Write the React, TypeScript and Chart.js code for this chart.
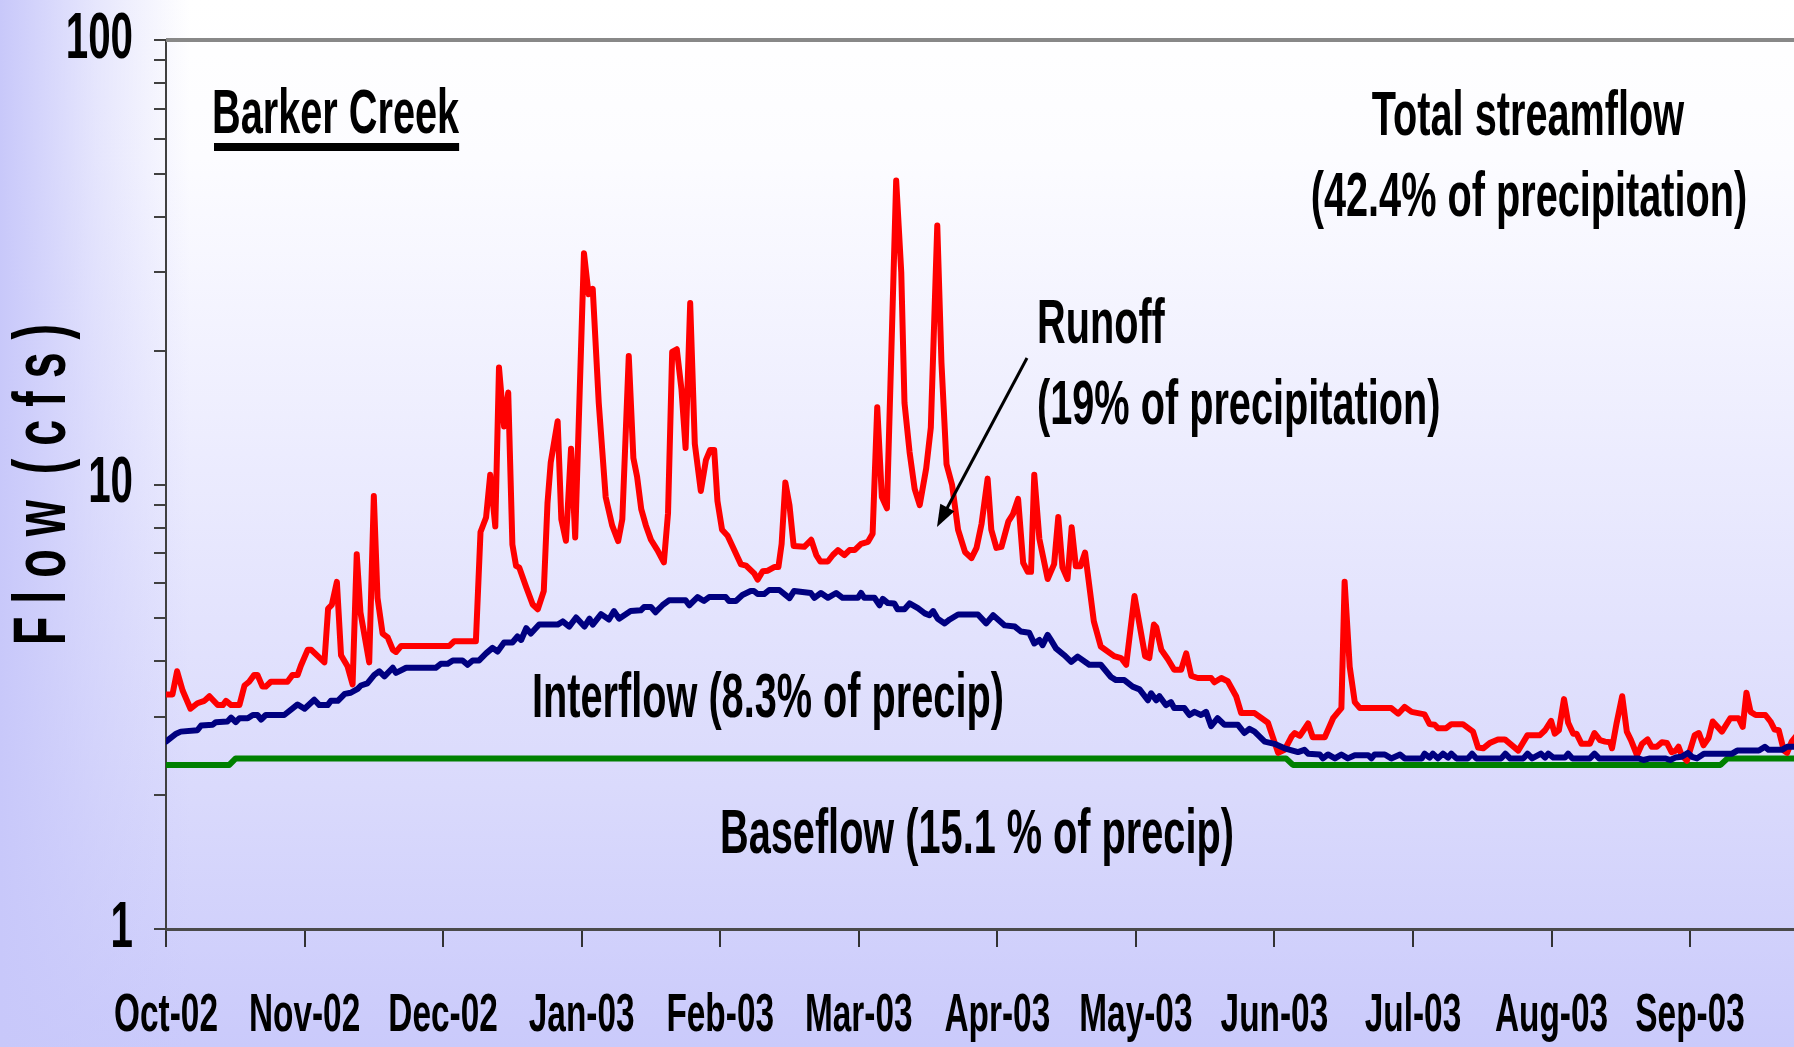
import React, { useEffect, useRef } from 'react';
import { Chart, registerables } from 'chart.js';

Chart.register(...registerables);

// ---------- data ----------
const monthLabels = ['Oct-02', 'Nov-02', 'Dec-02', 'Jan-03', 'Feb-03', 'Mar-03', 'Apr-03', 'May-03', 'Jun-03', 'Jul-03', 'Aug-03', 'Sep-03'];
const monthTickDays = [0, 30, 60, 90, 120, 150, 180, 210, 240, 270, 300, 330];
const yTickValues = [1, 2, 3, 4, 5, 6, 7, 8, 9, 10, 20, 30, 40, 50, 60, 70, 80, 90, 100];
const yTickLabels: Record<number, string> = { 1: '1', 10: '10', 100: '100' };

// Total streamflow (red)
const totalDays = [0, 1.4, 2.4, 3.6, 5.3, 6.8, 8.3, 9.4, 11.2, 12.3, 13.0, 14.1, 15.9, 17.0, 18.0, 19.1, 19.8, 20.9, 21.6, 22.7, 26.3, 27.4, 28.5, 29.2, 30.7, 31.4, 34.3, 35.1, 35.9, 37.0, 37.9, 39.3, 40.4, 41.3, 42.1, 44.0, 45.0, 45.8, 46.9, 48.0, 49.1, 49.8, 50.9, 61.3, 62.4, 67.1, 68.1, 69.3, 70.2, 71.3, 72.1, 73.2, 74.1, 75.0, 75.8, 76.5, 78.0, 79.4, 80.5, 81.8, 82.6, 83.3, 84.8, 85.6, 86.6, 87.7, 88.6, 90.5, 91.5, 92.4, 93.7, 95.2, 96.6, 97.9, 98.8, 100.2, 101.2, 102.0, 102.9, 103.9, 105.0, 106.4, 107.8, 108.7, 109.6, 110.6, 111.6, 112.5, 113.5, 114.5, 115.8, 116.9, 117.8, 118.7, 119.4, 120.4, 121.6, 124.5, 125.6, 127.4, 128.1, 129.2, 130.3, 131.7, 132.6, 133.3, 134.1, 135.0, 135.9, 138.2, 139.7, 140.8, 141.7, 143.3, 144.4, 145.5, 146.9, 148.0, 149.1, 150.5, 152.0, 153.0, 154.0, 155.0, 156.1, 158.1, 159.2, 159.9, 161.0, 162.1, 163.2, 164.6, 165.6, 167.0, 167.9, 169.0, 170.2, 171.5, 173.0, 174.4, 175.5, 176.6, 177.9, 178.7, 179.8, 180.9, 182.4, 183.4, 184.5, 185.6, 186.6, 187.3, 188.0, 189.1, 190.9, 192.3, 193.2, 194.1, 195.2, 196.1, 197.0, 198.0, 199.0, 200.9, 202.4, 205.3, 206.8, 207.9, 209.7, 212.0, 212.9, 213.9, 214.4, 215.5, 216.9, 218.3, 219.8, 220.9, 222.0, 223.4, 226.3, 227.0, 228.5, 229.9, 231.7, 232.8, 235.7, 238.6, 240.8, 242.2, 243.7, 244.4, 245.5, 247.3, 248.3, 250.9, 252.7, 254.5, 255.2, 256.3, 257.4, 258.5, 265.3, 266.8, 268.2, 269.7, 271.1, 272.5, 273.6, 274.7, 275.4, 277.2, 278.3, 280.8, 283.0, 284.1, 285.2, 286.6, 288.4, 289.9, 292.8, 294.8, 297.5, 298.6, 299.9, 300.7, 301.6, 302.7, 303.6, 304.7, 305.4, 306.5, 308.3, 309.3, 310.5, 311.6, 312.7, 313.1, 314.1, 315.3, 316.3, 317.2, 318.5, 319.6, 320.8, 321.7, 322.8, 323.9, 325.0, 326.0, 326.9, 327.5, 328.2, 329.3, 331.0, 331.9, 332.9, 334.0, 334.9, 336.9, 338.7, 340.5, 341.4, 342.2, 343.1, 344.2, 346.3, 347.4, 348.3, 349.2, 350.3, 351.0, 352.0, 353.0];
const totalCfs = [3.37, 3.37, 3.80, 3.44, 3.13, 3.22, 3.26, 3.34, 3.19, 3.19, 3.26, 3.19, 3.19, 3.53, 3.60, 3.73, 3.73, 3.51, 3.51, 3.60, 3.60, 3.73, 3.73, 3.91, 4.25, 4.25, 3.98, 5.26, 5.36, 6.04, 4.13, 3.90, 3.55, 6.97, 5.16, 3.98, 9.42, 5.56, 4.62, 4.53, 4.25, 4.20, 4.33, 4.33, 4.44, 4.44, 7.82, 8.43, 10.52, 8.05, 18.33, 13.50, 16.10, 7.33, 6.56, 6.50, 5.87, 5.37, 5.24, 5.76, 9.07, 11.21, 13.88, 8.35, 7.47, 12.04, 7.60, 33.15, 26.79, 27.55, 15.26, 9.37, 8.09, 7.46, 8.35, 19.45, 11.46, 10.42, 8.80, 8.09, 7.51, 7.12, 6.68, 8.62, 19.87, 20.15, 16.41, 12.08, 25.59, 12.34, 9.67, 11.34, 11.95, 11.95, 9.18, 7.91, 7.67, 6.61, 6.57, 6.30, 6.11, 6.38, 6.40, 6.52, 6.52, 7.35, 10.10, 8.98, 7.27, 7.24, 7.51, 6.94, 6.71, 6.71, 6.94, 7.12, 6.94, 7.12, 7.12, 7.35, 7.43, 7.75, 14.93, 9.37, 8.84, 48.28, 30.0, 15.26, 11.83, 9.78, 8.99, 10.87, 13.43, 38.26, 18.84, 11.11, 9.99, 7.91, 7.05, 6.83, 7.20, 8.17, 10.31, 7.91, 7.20, 7.24, 8.26, 8.58, 9.28, 6.66, 6.36, 6.36, 10.52, 7.55, 6.13, 6.62, 8.45, 6.51, 6.13, 8.01, 6.55, 6.55, 7.03, 4.92, 4.32, 4.11, 4.07, 3.93, 5.61, 4.11, 4.07, 4.84, 4.78, 4.25, 4.05, 3.83, 3.83, 4.17, 3.71, 3.67, 3.67, 3.59, 3.67, 3.61, 3.34, 3.06, 3.06, 2.91, 2.49, 2.53, 2.71, 2.76, 2.72, 2.90, 2.70, 2.70, 2.98, 3.14, 6.04, 3.89, 3.24, 3.14, 3.14, 3.05, 3.16, 3.08, 3.06, 3.04, 2.89, 2.88, 2.83, 2.83, 2.89, 2.89, 2.78, 2.56, 2.55, 2.62, 2.67, 2.67, 2.52, 2.73, 2.73, 2.80, 2.94, 2.75, 2.80, 3.29, 2.91, 2.75, 2.75, 2.61, 2.61, 2.76, 2.66, 2.64, 2.63, 2.55, 2.91, 3.34, 2.78, 2.66, 2.46, 2.61, 2.67, 2.57, 2.57, 2.63, 2.62, 2.50, 2.52, 2.57, 2.46, 2.39, 2.73, 2.76, 2.59, 2.69, 2.93, 2.78, 2.98, 2.98, 2.85, 3.40, 3.08, 3.03, 3.03, 2.93, 2.81, 2.80, 2.52, 2.49, 2.64, 2.72];

// Interflow (navy)
const interDays = [0, 2.2, 3.2, 6.8, 7.6, 10.1, 10.8, 13.3, 14.1, 15.1, 15.9, 17.7, 18.8, 19.8, 20.6, 21.6, 25.6, 28.5, 30.0, 32.1, 33.2, 35.0, 35.7, 37.2, 38.7, 40.0, 41.5, 42.2, 43.6, 45.1, 46.2, 47.3, 49.1, 49.8, 52.0, 58.4, 59.5, 61.0, 62.1, 64.2, 65.3, 66.4, 67.8, 69.3, 70.7, 71.8, 73.2, 75.0, 76.1, 76.9, 78.0, 79.0, 80.8, 84.8, 85.9, 87.3, 88.8, 90.6, 91.7, 92.4, 94.2, 95.9, 97.0, 98.1, 100.6, 102.8, 103.5, 105.0, 106.0, 107.5, 108.9, 112.5, 113.3, 115.1, 116.5, 117.6, 121.2, 121.9, 123.4, 124.8, 126.6, 127.3, 128.1, 129.5, 130.6, 132.8, 135.0, 136.0, 139.6, 140.4, 141.8, 143.3, 145.1, 146.5, 149.8, 150.5, 151.2, 153.4, 154.5, 155.2, 156.3, 157.7, 158.4, 159.9, 161.0, 162.8, 164.3, 165.3, 166.1, 167.1, 168.6, 169.7, 171.5, 175.8, 177.6, 179.1, 181.6, 183.8, 185.1, 186.9, 188.0, 189.1, 189.8, 190.9, 191.6, 192.7, 194.5, 196.0, 197.4, 199.9, 202.4, 204.6, 205.7, 207.5, 209.3, 210.8, 212.6, 213.3, 214.4, 215.1, 216.5, 217.6, 218.3, 220.5, 221.6, 222.7, 224.1, 225.2, 226.3, 227.7, 229.2, 232.1, 233.5, 234.6, 235.7, 237.9, 240.0, 242.2, 245.1, 246.5, 247.3, 249.8, 250.5, 251.6, 253.1, 254.5, 255.9, 257.4, 260.3, 261.0, 261.7, 263.9, 265.3, 267.2, 268.2, 271.9, 272.5, 273.6, 274.3, 275.4, 276.5, 277.6, 278.3, 279.4, 281.9, 282.8, 283.7, 289.1, 290.0, 291.0, 293.9, 294.8, 295.8, 297.7, 298.6, 299.3, 300.4, 302.9, 303.6, 304.5, 308.3, 309.3, 310.3, 318.8, 319.9, 321.3, 324.6, 325.7, 326.8, 328.2, 329.5, 330.4, 331.5, 333.0, 339.1, 340.2, 344.9, 346.2, 347.0, 349.9, 351.0, 353.0];
const interCfs = [2.64, 2.75, 2.78, 2.80, 2.87, 2.88, 2.92, 2.93, 2.99, 2.92, 2.98, 2.98, 3.03, 3.03, 2.96, 3.03, 3.03, 3.20, 3.13, 3.28, 3.19, 3.19, 3.26, 3.26, 3.38, 3.40, 3.47, 3.53, 3.57, 3.73, 3.80, 3.70, 3.87, 3.77, 3.87, 3.87, 3.95, 3.95, 4.02, 4.02, 3.93, 4.02, 4.02, 4.17, 4.29, 4.21, 4.41, 4.41, 4.55, 4.47, 4.75, 4.62, 4.84, 4.84, 4.92, 4.79, 5.02, 4.79, 4.99, 4.84, 5.11, 4.97, 5.19, 4.99, 5.19, 5.21, 5.30, 5.30, 5.16, 5.35, 5.49, 5.49, 5.35, 5.58, 5.47, 5.58, 5.58, 5.47, 5.47, 5.64, 5.76, 5.76, 5.67, 5.67, 5.79, 5.79, 5.55, 5.76, 5.70, 5.56, 5.70, 5.56, 5.70, 5.56, 5.56, 5.70, 5.56, 5.56, 5.35, 5.53, 5.41, 5.40, 5.24, 5.24, 5.40, 5.27, 5.13, 5.08, 5.19, 4.99, 4.87, 4.97, 5.10, 5.10, 4.87, 5.08, 4.82, 4.79, 4.67, 4.64, 4.39, 4.47, 4.35, 4.59, 4.47, 4.28, 4.13, 3.99, 4.10, 3.93, 3.93, 3.69, 3.63, 3.63, 3.51, 3.46, 3.27, 3.39, 3.27, 3.34, 3.19, 3.24, 3.14, 3.14, 3.03, 3.08, 3.03, 3.08, 2.86, 2.98, 2.88, 2.88, 2.76, 2.82, 2.78, 2.64, 2.61, 2.55, 2.50, 2.53, 2.48, 2.47, 2.42, 2.47, 2.42, 2.47, 2.42, 2.46, 2.46, 2.42, 2.47, 2.47, 2.42, 2.47, 2.42, 2.42, 2.48, 2.43, 2.48, 2.42, 2.48, 2.43, 2.48, 2.42, 2.42, 2.48, 2.42, 2.42, 2.48, 2.42, 2.42, 2.48, 2.42, 2.48, 2.43, 2.48, 2.43, 2.43, 2.48, 2.42, 2.42, 2.48, 2.42, 2.42, 2.40, 2.42, 2.42, 2.40, 2.43, 2.44, 2.49, 2.44, 2.42, 2.48, 2.48, 2.52, 2.52, 2.57, 2.53, 2.53, 2.57, 2.57];

// Baseflow (green)
const baseDays = [0, 13.7, 15.1, 242.5, 244.0, 336.6, 338.1, 353];
const baseCfs = [2.34, 2.34, 2.42, 2.42, 2.34, 2.34, 2.42, 2.42];

// ---------- text ----------
const siteName = 'Barker Creek';
const totalLabel = ['Total streamflow', '(42.4% of precipitation)'];
const runoffLabel = ['Runoff', '(19% of precipitation)'];
const interLabel = 'Interflow (8.3% of precip)';
const baseLabel = 'Baseflow (15.1 % of precip)';
const yTitle = 'F l o w  ( c f s )';

const FONT = '"Liberation Sans", Arial, Helvetica, sans-serif';
const SX = 0.63; // horizontal compression of the slide's condensed lettering

function patchContext(ctx: any) {
  if (ctx.__condensed) return;
  const orig = CanvasRenderingContext2D.prototype.fillText;
  ctx.fillText = function (text: string, x: number, y: number, maxWidth?: number) {
    this.save();
    this.translate(x, y);
    this.scale(SX, 1);
    if (maxWidth === undefined || maxWidth === null || !isFinite(maxWidth)) orig.call(this, text, 0, 0);
    else orig.call(this, text, 0, 0, maxWidth / SX);
    this.restore();
  };
  ctx.__condensed = true;
}

const bgPlugin = {
  id: 'slideBackground',
  beforeDraw(chart: any) {
    const { ctx, width, height } = chart;
    ctx.save();
    const g = ctx.createLinearGradient(0, 0, 0, height);
    g.addColorStop(0, '#ffffff');
    g.addColorStop(0.15, '#fcfcff');
    g.addColorStop(0.45, '#ebebfe');
    g.addColorStop(0.75, '#dadafc');
    g.addColorStop(1, '#cacafb');
    ctx.fillStyle = g;
    ctx.fillRect(0, 0, width, height);
    const h = ctx.createLinearGradient(0, 0, 190, 0);
    h.addColorStop(0, 'rgba(200,200,250,1)');
    h.addColorStop(0.5, 'rgba(200,200,250,0.45)');
    h.addColorStop(1, 'rgba(200,200,250,0)');
    ctx.fillStyle = h;
    ctx.fillRect(0, 0, 190, height);
    ctx.restore();
  },
};

const annotationPlugin = {
  id: 'slideAnnotations',
  afterDraw(chart: any) {
    const ctx = chart.ctx;
    const { left, right, top } = chart.chartArea;
    ctx.save();
    // top border of plot area
    ctx.strokeStyle = '#888888';
    ctx.lineWidth = 4;
    ctx.beginPath();
    ctx.moveTo(left, top);
    ctx.lineTo(right, top);
    ctx.stroke();

    ctx.fillStyle = '#000000';
    ctx.font = `bold 63px ${FONT}`;
    ctx.textBaseline = 'alphabetic';
    ctx.textAlign = 'left';
    ctx.fillText(siteName, 212, 133);
    const w = ctx.measureText(siteName).width * SX;
    ctx.fillRect(214, 143, w - 2, 8);

    ctx.textAlign = 'center';
    ctx.fillText(totalLabel[0], 1528, 135);
    ctx.fillText(totalLabel[1], 1529, 216);

    ctx.textAlign = 'left';
    ctx.fillText(runoffLabel[0], 1037, 343);
    ctx.fillText(runoffLabel[1], 1037, 424);
    ctx.fillText(interLabel, 532, 717);
    ctx.fillText(baseLabel, 720, 853);

    // arrow
    const x1 = 1027, y1 = 358, x2 = 937, y2 = 527;
    const ang = Math.atan2(y2 - y1, x2 - x1);
    const hl = 22, hw = 8;
    ctx.strokeStyle = '#000000';
    ctx.lineWidth = 3;
    ctx.beginPath();
    ctx.moveTo(x1, y1);
    ctx.lineTo(x2 - Math.cos(ang) * hl * 0.8, y2 - Math.sin(ang) * hl * 0.8);
    ctx.stroke();
    ctx.beginPath();
    ctx.moveTo(x2, y2);
    ctx.lineTo(x2 - Math.cos(ang) * hl - Math.sin(ang) * hw, y2 - Math.sin(ang) * hl + Math.cos(ang) * hw);
    ctx.lineTo(x2 - Math.cos(ang) * hl + Math.sin(ang) * hw, y2 - Math.sin(ang) * hl - Math.cos(ang) * hw);
    ctx.closePath();
    ctx.fill();
    ctx.restore();
  },
};

function toPoints(days: number[], vals: number[]) {
  return days.map((d, i) => ({ x: d, y: vals[i] }));
}

export default function App() {
  const canvasRef = useRef<HTMLCanvasElement | null>(null);

  useEffect(() => {
    const canvas = canvasRef.current;
    if (!canvas) return;
    const ctx = canvas.getContext('2d');
    if (!ctx) return;
    patchContext(ctx);

    const chart = new Chart(ctx as any, {
      type: 'line',
      data: {
        datasets: [
          {
            label: 'Interflow',
            data: toPoints(interDays, interCfs),
            borderColor: '#000080',
            borderWidth: 6,
            pointRadius: 0,
            tension: 0,
            order: 0,
          },
          {
            label: 'Total streamflow',
            data: toPoints(totalDays, totalCfs),
            borderColor: '#ff0000',
            borderWidth: 6,
            pointRadius: 0,
            tension: 0,
            order: 1,
          },
          {
            label: 'Baseflow',
            data: toPoints(baseDays, baseCfs),
            borderColor: '#008000',
            borderWidth: 6,
            pointRadius: 0,
            tension: 0,
            order: 2,
          },
        ],
      } as any,
      options: {
        animation: false,
        responsive: false,
        devicePixelRatio: 1,
        layout: { padding: { top: 40, left: 0, right: 0, bottom: 0 } },
        elements: {
          line: { borderJoinStyle: 'round', borderCapStyle: 'round' },
          point: { radius: 0 },
        },
        plugins: {
          legend: { display: false },
          tooltip: { enabled: false },
          title: { display: false },
        },
        scales: {
          x: {
            type: 'linear',
            min: 0,
            max: 352.5,
            afterBuildTicks: (s: any) => {
              s.ticks = monthTickDays.map((v) => ({ value: v }));
            },
            afterFit: (s: any) => {
              s.height = 118;
              s.paddingLeft = 0;
              s.paddingRight = 0;
            },
            ticks: {
              autoSkip: false,
              maxRotation: 0,
              minRotation: 0,
              padding: 38,
              color: '#000000',
              font: { family: FONT, size: 53, weight: 'bold', lineHeight: 1.2 },
              callback: (v: any) => {
                const i = monthTickDays.indexOf(Number(v));
                return i >= 0 ? monthLabels[i] : '';
              },
            },
            grid: {
              display: true,
              drawOnChartArea: false,
              drawTicks: true,
              tickLength: 18,
              color: '#333333',
              lineWidth: 2,
            },
            border: { display: true, color: '#4a4a4a', width: 3 },
          },
          y: {
            type: 'logarithmic',
            min: 1,
            max: 100,
            afterBuildTicks: (s: any) => {
              s.ticks = yTickValues.map((v) => ({ value: v }));
            },
            afterFit: (s: any) => {
              s.width = 166;
              s.paddingTop = 0;
              s.paddingBottom = 0;
            },
            ticks: {
              autoSkip: false,
              padding: 21,
              color: '#000000',
              font: { family: FONT, size: 64, weight: 'bold', lineHeight: 1.2 },
              callback: (v: any) => yTickLabels[Number(v)] ?? '',
            },
            grid: {
              display: true,
              drawOnChartArea: false,
              drawTicks: true,
              tickLength: 12,
              color: '#404040',
              lineWidth: 2,
            },
            border: { display: true, color: '#404040', width: 2 },
            title: {
              display: true,
              text: yTitle,
              color: '#000000',
              font: { family: FONT, size: 74, weight: 'bold', lineHeight: 1.2 },
              padding: { top: 0, bottom: 0 },
            },
          },
        },
      } as any,
      plugins: [bgPlugin, annotationPlugin],
    });

    return () => {
      chart.destroy();
    };
  }, []);

  return (
    <div style={{ position: 'fixed', left: 0, top: 0, width: 1794, height: 1047, overflow: 'hidden' }}>
      <canvas ref={canvasRef} width={1794} height={1047} style={{ display: 'block', width: 1794, height: 1047 }} />
    </div>
  );
}
